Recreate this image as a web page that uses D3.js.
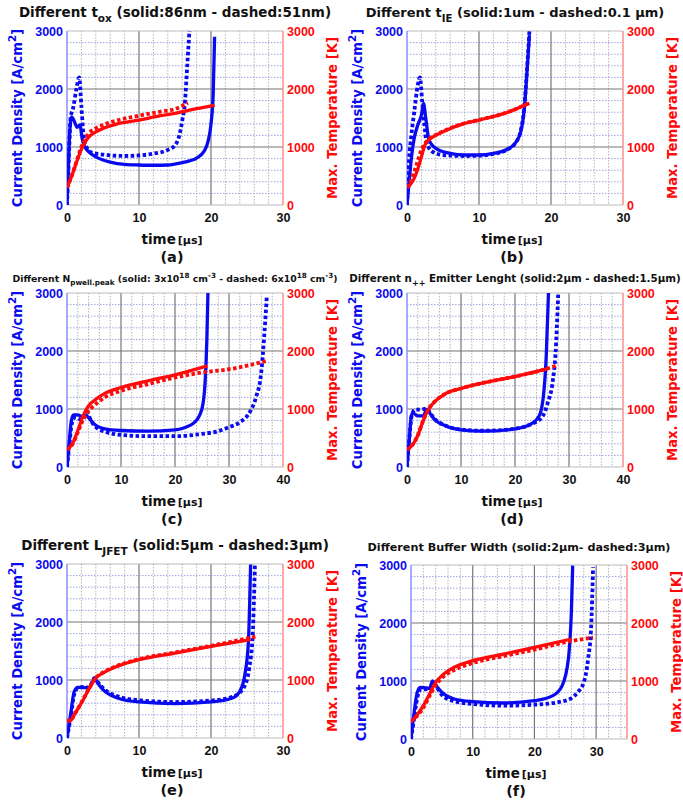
<!DOCTYPE html>
<html>
<head>
<meta charset="utf-8">
<script src="https://cdn.jsdelivr.net/npm/d3@7"></script>
<style>
  body { margin: 0; background: #fff; }
  svg { display: block; font-family: "DejaVu Sans", sans-serif; font-weight: bold; }
</style>
</head>
<body>
<svg id="fig" width="683" height="804"></svg>
<script>
/* ── Data: [time µs, value] ───────────────────────────────── */
// (a) different t_ox
const aJSolid = [[0,0],[0.2,700],[0.4,1300],[0.65,1520],[1.0,1450],[1.4,1340],[1.8,1380],[2.1,1150],[2.5,1000],[3,920],[4,830],[5,776],[6,740],[8,700],[10,690],[12,685],[14,690],[16,730],[17,760],[18,810],[19,920],[19.6,1100],[20,1400],[20.3,1900],[20.5,2900]];
const aJDash  = [[0,0],[0.2,600],[0.5,1500],[0.9,1700],[1.3,2000],[1.7,2200],[2.0,1700],[2.3,1200],[2.7,1000],[3.5,900],[5,870],[8,845],[10,855],[12,885],[14,950],[15,1030],[15.6,1200],[16,1450],[16.4,1800],[16.7,2400],[17,3000]];
const aTSolid = [[0,300],[0.5,450],[1,620],[1.5,800],[2,960],[2.5,1080],[3,1170],[4,1260],[5,1320],[7,1400],[10,1465],[13,1540],[15,1580],[18,1660],[20.5,1720]];
const aTDash  = [[0,300],[0.5,450],[1,630],[1.5,820],[2,1000],[2.5,1130],[3,1230],[4,1320],[5,1380],[7,1460],[10,1540],[13,1610],[15,1655],[16.8,1760]];
// (b) different t_IE
const bJSolid = [[0,0],[0.3,400],[0.6,800],[1,1150],[1.5,1380],[2,1550],[2.3,1750],[2.6,1500],[3,1150],[3.5,1030],[4,977],[6,890],[8,862],[10,862],[12,890],[14,965],[15,1063],[15.8,1264],[16.3,1667],[16.7,2356],[17,2930]];
const bJDash  = [[0,0],[0.3,800],[0.6,1200],[1,1600],[1.5,2070],[1.8,2200],[2.1,1800],[2.4,1400],[2.7,1092],[3.5,920],[5,862],[8,845],[10,850],[12,880],[14,960],[15,1060],[15.8,1280],[16.3,1700],[16.7,2400],[17,3000]];
const bTSolid = [[0,300],[0.5,360],[1,460],[1.5,620],[2,830],[2.5,1035],[3,1120],[4,1200],[5,1264],[8,1408],[10,1465],[14,1600],[17,1753]];
const bTDash  = [[0,300],[0.5,400],[1,575],[1.5,760],[2,948],[2.5,1060],[3,1130],[4,1210],[5,1270],[8,1410],[10,1468],[14,1600],[17,1760]];
// (c) different N_pwell.peak
const cJSolid = [[0,0],[0.4,400],[0.8,800],[1.2,900],[2,900],[2.8,870],[3.4,900],[4,850],[5,743],[7,657],[10,629],[15,617],[20,640],[22,686],[23.5,760],[24.5,880],[25.2,1100],[25.6,1500],[25.9,2200],[26.1,3000]];
const cJDash  = [[0,0],[0.4,350],[0.9,750],[1.5,850],[2.5,820],[3.2,850],[3.7,950],[4.2,850],[5,720],[7,610],[10,554],[15,531],[20,531],[25,571],[28,617],[30,686],[32,771],[34,971],[35,1200],[36,1657],[36.5,2229],[37,2943]];
const cTSolid = [[0,300],[1,400],[2,629],[3,886],[4,1057],[5,1143],[7,1269],[10,1371],[15,1486],[20,1589],[26,1743]];
const cTDash  = [[0,300],[1,390],[2,600],[3,820],[4,971],[5,1057],[7,1200],[10,1314],[15,1429],[20,1543],[25,1629],[30,1686],[37,1829]];
// (d) different n++ emitter length
const dJSolid = [[0,0],[0.4,450],[0.8,880],[1.1,930],[2,880],[3,880],[3.7,994],[4.3,920],[5,829],[7,714],[10,640],[14,617],[20,657],[23,743],[24.5,886],[25.3,1257],[25.8,1943],[26.2,3000]];
const dJDash  = [[0,0],[0.4,450],[0.9,900],[1.5,990],[2.5,990],[3.7,1010],[4.3,930],[5,840],[7,720],[10,645],[14,625],[20,660],[23,740],[25,857],[26,1086],[27,1486],[27.5,1943],[28,2971]];
const dTSolid = [[0,300],[1,380],[2,543],[3,800],[4,1000],[5,1114],[7,1257],[10,1354],[15,1469],[20,1560],[25,1669],[26.2,1700]];
const dTDash  = [[0,300],[1,380],[2,545],[3,800],[4,1000],[5,1114],[7,1257],[10,1354],[15,1469],[20,1560],[25,1669],[28,1760]];
// (e) different L_JFET
const eJSolid = [[0,0],[0.5,400],[1,800],[1.5,874],[2.5,870],[3,860],[3.5,950],[3.8,1034],[4.3,940],[5,833],[7,690],[10,621],[15,592],[20,621],[23,690],[24,805],[24.7,1092],[25.2,1667],[25.5,2990]];
const eJDash  = [[0,0],[0.5,350],[1,750],[1.5,860],[2.5,880],[3,870],[3.5,960],[3.8,1030],[4.3,960],[5,860],[7,720],[10,650],[15,620],[20,645],[23,710],[24.5,860],[25.3,1200],[25.8,1800],[26.1,3000]];
const eTSolid = [[0,300],[0.5,300],[1,400],[2,603],[3,833],[4,1034],[5,1120],[7,1236],[10,1350],[15,1465],[20,1580],[25.5,1695]];
const eTDash  = [[0,300],[0.5,300],[1,400],[2,610],[3,840],[4,1040],[5,1130],[7,1245],[10,1360],[15,1475],[20,1590],[26.3,1750]];
// (f) different buffer width
const fJSolid = [[0,0],[0.5,450],[1,800],[1.5,890],[2.5,880],[3,870],[3.5,1000],[4,930],[5,805],[7,690],[10,644],[15,621],[20,660],[23,747],[24.5,920],[25.5,1380],[26,2241],[26.2,2990]];
const fJDash  = [[0,0],[0.5,350],[1,700],[1.5,850],[2.5,860],[3.3,880],[3.8,950],[4.3,870],[5,760],[7,650],[10,603],[15,575],[20,592],[25,660],[27,805],[28,977],[28.7,1380],[29.2,1954],[29.5,2960]];
const fTSolid = [[0,300],[1,420],[2,575],[3,776],[4,977],[5,1092],[7,1236],[10,1350],[15,1465],[20,1580],[26,1724]];
const fTDash  = [[0,300],[1,400],[2,540],[3,740],[4,930],[5,1050],[7,1190],[10,1310],[15,1430],[20,1540],[26,1690],[29.5,1747]];

// titles: [text, '' | 'sub' | 'sup']
const titleA = [['Different t',''],['ox','sub'],[' (solid:86nm - dashed:51nm)','']];
const titleB = [['Different t',''],['IE','sub'],[' (solid:1um - dashed:0.1 μm)','']];
const titleC = [['Different N',''],['pwell.peak','sub'],[' (solid: 3x10',''],['18','sup'],[' cm',''],['-3','sup'],[' - dashed: 6x10',''],['18','sup'],[' cm',''],['-3','sup'],[')','']];
const titleD = [['Different n',''],['++','sub'],[' Emitter Lenght (solid:2μm - dashed:1.5μm)','']];
const titleE = [['Different L',''],['JFET','sub'],[' (solid:5μm - dashed:3μm)','']];
const titleF = [['Different Buffer Width (solid:2μm- dashed:3μm)','']];

const yTicks = [0, 1000, 2000, 3000];
const panelLabels = ['(a)', '(b)', '(c)', '(d)', '(e)', '(f)'];

/* ── Layout ────────────────────────────────────────────────── */
const BLUE = '#0a0af0', RED = '#ff0a0a';
const PW = 216, PH = 174;

const panels = [
  { x0: 67,  y0: 31,  xMax: 30, xTicks: [0,10,20,30],    title: titleA, tSize: 13.5, tDy: -14, js: aJSolid, jd: aJDash, ts: aTSolid, td: aTDash },
  { x0: 407, y0: 31,  xMax: 30, xTicks: [0,10,20,30],    title: titleB, tSize: 13,   tDy: -14, js: bJSolid, jd: bJDash, ts: bTSolid, td: bTDash },
  { x0: 67,  y0: 293, xMax: 40, xTicks: [0,10,20,30,40], title: titleC, tSize: 9.3,  tDy: -11, js: cJSolid, jd: cJDash, ts: cTSolid, td: cTDash },
  { x0: 407, y0: 293, xMax: 40, xTicks: [0,10,20,30,40], title: titleD, tSize: 10.3, tDy: -11, js: dJSolid, jd: dJDash, ts: dTSolid, td: dTDash },
  { x0: 67,  y0: 564, xMax: 30, xTicks: [0,10,20,30],    title: titleE, tSize: 13.5, tDy: -14, js: eJSolid, jd: eJDash, ts: eTSolid, td: eTDash },
  { x0: 411, y0: 565, xMax: 35, xTicks: [0,10,20,30],    title: titleF, tSize: 11.2, tDy: -14, js: fJSolid, jd: fJDash, ts: fTSolid, td: fTDash },
];

const svg = d3.select('#fig');
const defs = svg.append('defs');

function richText(sel, parts, size) {
  let shift = 0;
  parts.forEach(([txt, kind]) => {
    const target = kind === 'sub' ? size * 0.35 : kind === 'sup' ? -size * 0.4 : 0;
    sel.append('tspan')
      .attr('dy', target - shift)
      .attr('font-size', kind ? size * 0.78 : size)
      .text(txt);
    shift = target;
  });
}

panels.forEach((p, i) => {
  const g = svg.append('g').attr('transform', `translate(${p.x0},${p.y0})`);
  const x = d3.scaleLinear().domain([0, p.xMax]).range([0, PW]);
  const y = d3.scaleLinear().domain([0, 3000]).range([PH, 0]);

  defs.append('clipPath').attr('id', `clip-${i}`)
    .append('rect').attr('x', 0).attr('y', -1).attr('width', PW).attr('height', PH + 2);

  // minor grid
  g.append('g').selectAll('line').data(d3.range(200, 3000, 200).filter(v => v % 1000))
    .join('line')
    .attr('x1', 0).attr('x2', PW).attr('y1', d => y(d)).attr('y2', d => y(d))
    .attr('stroke', '#9aa4e6').attr('stroke-width', 1).attr('stroke-dasharray', '1.5,1.5');
  g.append('g').selectAll('line').data(d3.range(2, p.xMax, 2).filter(v => v % 10))
    .join('line')
    .attr('y1', 0).attr('y2', PH).attr('x1', d => x(d)).attr('x2', d => x(d))
    .attr('stroke', '#b4b4b4').attr('stroke-width', 1).attr('stroke-dasharray', '1.5,1.5');

  // major grid
  g.append('g').selectAll('line').data([1000, 2000])
    .join('line')
    .attr('x1', 0).attr('x2', PW).attr('y1', d => y(d)).attr('y2', d => y(d))
    .attr('stroke', '#777').attr('stroke-width', 1.2);
  g.append('g').selectAll('line').data(p.xTicks.filter(v => v > 0 && v < p.xMax))
    .join('line')
    .attr('y1', 0).attr('y2', PH).attr('x1', d => x(d)).attr('x2', d => x(d))
    .attr('stroke', '#777').attr('stroke-width', 1.2);

  // frame
  g.append('line').attr('x1', 0).attr('x2', PW).attr('y1', 0).attr('y2', 0).attr('stroke', '#bbb');
  g.append('line').attr('x1', 0).attr('x2', PW).attr('y1', PH).attr('y2', PH).attr('stroke', '#bbb');
  g.append('line').attr('x1', 0).attr('x2', 0).attr('y1', 0).attr('y2', PH).attr('stroke', '#8c8cff').attr('stroke-width', 1.5);
  g.append('line').attr('x1', PW).attr('x2', PW).attr('y1', 0).attr('y2', PH).attr('stroke', '#ff8c8c').attr('stroke-width', 1.5);

  // curves
  const line = d3.line().x(d => x(d[0])).y(d => y(d[1])).curve(d3.curveMonotoneX);
  const curves = g.append('g').attr('clip-path', `url(#clip-${i})`);
  const series = [
    { d: p.jd, c: BLUE, dash: true },
    { d: p.js, c: BLUE, dash: false },
    { d: p.td, c: RED,  dash: true },
    { d: p.ts, c: RED,  dash: false },
  ];
  series.forEach(s => {
    curves.append('path').datum(s.d)
      .attr('d', line)
      .attr('fill', 'none')
      .attr('stroke', s.c)
      .attr('stroke-width', s.dash ? 3.8 : 3.3)
      .attr('stroke-dasharray', s.dash ? '3.5,2.5' : null)
      .attr('stroke-linejoin', 'round');
  });

  // axes
  const fmt = d3.format('d');
  const yl = g.append('g').call(d3.axisLeft(y).tickValues(yTicks).tickFormat(fmt).tickSize(0).tickPadding(4));
  const yr = g.append('g').attr('transform', `translate(${PW},0)`)
    .call(d3.axisRight(y).tickValues(yTicks).tickFormat(fmt).tickSize(0).tickPadding(4));
  const xb = g.append('g').attr('transform', `translate(0,${PH})`)
    .call(d3.axisBottom(x).tickValues(p.xTicks).tickFormat(fmt).tickSize(0).tickPadding(8));
  [yl, yr, xb].forEach(a => {
    a.select('.domain').remove();
    a.selectAll('text').attr('font-family', null).attr('font-size', 12.5).attr('font-weight', 'bold');
  });
  yl.selectAll('text').attr('fill', BLUE);
  yr.selectAll('text').attr('fill', RED);
  xb.selectAll('text').attr('fill', '#111');

  // axis labels
  const yLab = g.append('text')
    .attr('transform', `translate(${-49},${PH / 2}) rotate(-90)`)
    .attr('text-anchor', 'middle').attr('dominant-baseline', 'middle')
    .attr('fill', BLUE);
  richText(yLab, [['Current Density [A/cm',''],['2','sup'],[']','']], 13.2);

  g.append('text')
    .attr('transform', `translate(${PW + 50},${PH / 2}) rotate(-90)`)
    .attr('text-anchor', 'middle').attr('dominant-baseline', 'middle')
    .attr('fill', RED).attr('font-size', 13.2)
    .text('Max. Temperature [K]');

  const xLab = g.append('text')
    .attr('x', PW / 2 - 3).attr('y', PH + 39)
    .attr('text-anchor', 'middle').attr('fill', '#111');
  xLab.append('tspan').attr('font-size', 13.5).text('time');
  xLab.append('tspan').attr('font-size', 11).attr('dx', 2).text('[μs]');

  g.append('text')
    .attr('x', PW / 2 - 3).attr('y', PH + 57)
    .attr('text-anchor', 'middle').attr('fill', '#111').attr('font-size', 14.5)
    .text(panelLabels[i]);

  // title
  const t = g.append('text')
    .attr('x', PW / 2).attr('y', p.tDy)
    .attr('text-anchor', 'middle').attr('fill', '#111');
  richText(t, p.title, p.tSize);
});
</script>
</body>
</html>
